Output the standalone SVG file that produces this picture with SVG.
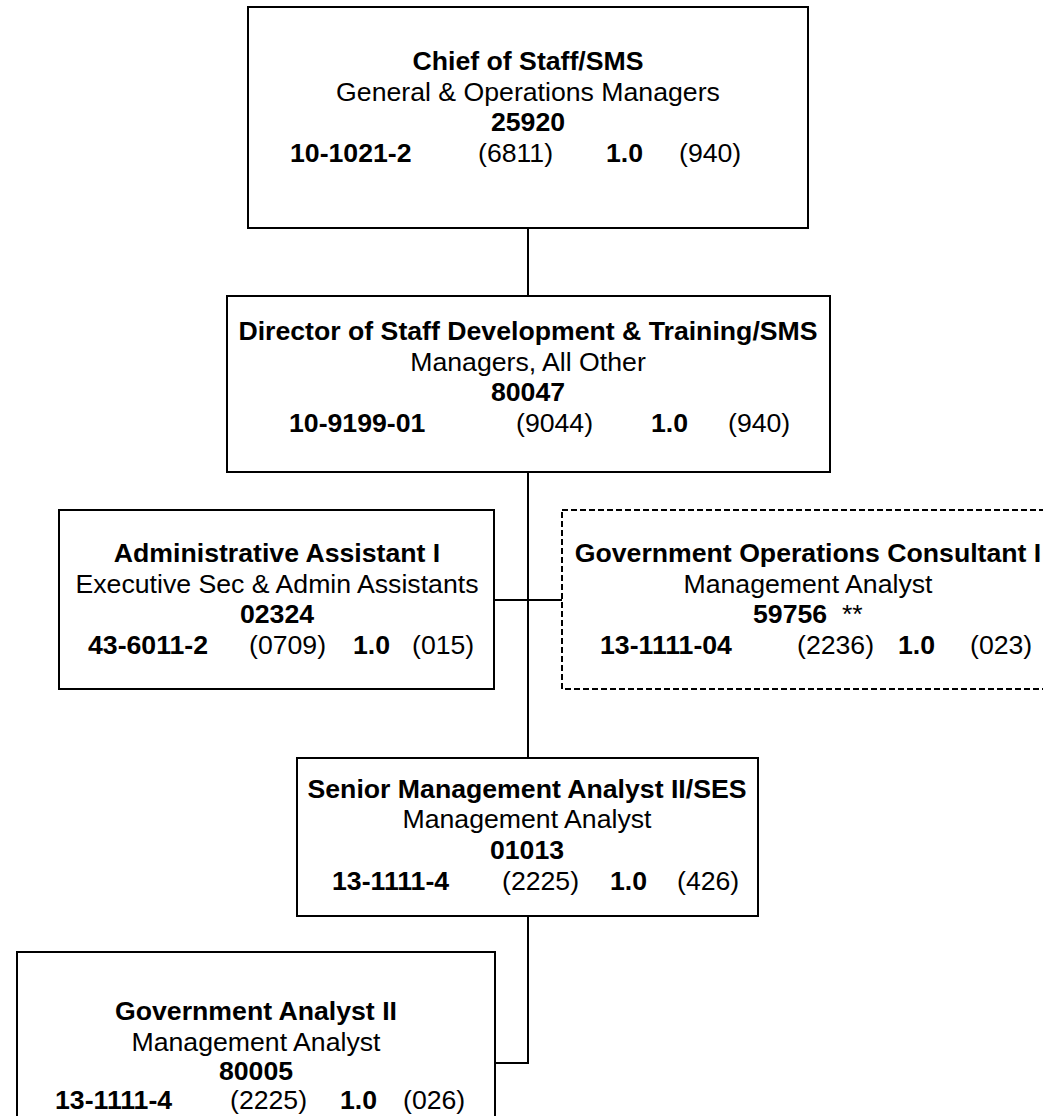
<svg xmlns="http://www.w3.org/2000/svg" width="1043" height="1116" viewBox="0 0 1043 1116">
  <style>
    text { font-family: "Liberation Sans", Arial, sans-serif; font-size: 26.67px; fill: #000; }
    .b { font-weight: bold; }
    .c { text-anchor: middle; }
    .box { fill: #fff; stroke: #000; stroke-width: 2; }
    .dash { fill: #fff; stroke: #000; stroke-width: 2; stroke-dasharray: 6 3; }
    .link { fill: none; stroke: #000; stroke-width: 2; }
  </style>
  <rect width="1043" height="1116" fill="#fff"/>

  <!-- reporting lines -->
  <g id="connectors">
    <line class="link" x1="528" y1="228" x2="528" y2="296"/>
    <line class="link" x1="528" y1="472" x2="528" y2="758"/>
    <line class="link" x1="494" y1="600" x2="562" y2="600"/>
    <polyline class="link" points="528,916 528,1063 495,1063"/>
  </g>

  <g id="chief-of-staff">
    <rect class="box" x="248" y="7" width="560" height="221"/>
    <text class="b c" x="528" y="70">Chief of Staff/SMS</text>
    <text class="c" x="528" y="100.7">General &amp; Operations Managers</text>
    <text class="b c" x="528" y="131.4">25920</text>
    <text class="b" x="290" y="162">10-1021-2</text>
    <text x="478" y="162">(6811)</text>
    <text class="b" x="606" y="162">1.0</text>
    <text x="679" y="162">(940)</text>
  </g>

  <g id="director-staff-development">
    <rect class="box" x="227" y="296" width="603" height="176"/>
    <text class="b c" x="528" y="340">Director of Staff Development &amp; Training/SMS</text>
    <text class="c" x="528" y="370.7">Managers, All Other</text>
    <text class="b c" x="528" y="401.4">80047</text>
    <text class="b" x="289" y="432">10-9199-01</text>
    <text x="516" y="432">(9044)</text>
    <text class="b" x="651" y="432">1.0</text>
    <text x="728" y="432">(940)</text>
  </g>

  <g id="administrative-assistant">
    <rect class="box" x="59" y="510" width="435" height="179"/>
    <text class="b c" x="277" y="562">Administrative Assistant I</text>
    <text class="c" x="277" y="592.7">Executive Sec &amp; Admin Assistants</text>
    <text class="b c" x="277" y="623.4">02324</text>
    <text class="b" x="88" y="654">43-6011-2</text>
    <text x="249" y="654">(0709)</text>
    <text class="b" x="353" y="654">1.0</text>
    <text x="412" y="654">(015)</text>
  </g>

  <g id="government-operations-consultant">
    <rect class="dash" x="562" y="510" width="500" height="179"/>
    <text class="b c" x="808" y="562">Government Operations Consultant I</text>
    <text class="c" x="808" y="592.7">Management Analyst</text>
    <text class="b" x="753" y="623.4">59756</text>
    <text x="842" y="623.4">**</text>
    <text class="b" x="600" y="654">13-1111-04</text>
    <text x="797" y="654">(2236)</text>
    <text class="b" x="898" y="654">1.0</text>
    <text x="970" y="654">(023)</text>
  </g>

  <g id="senior-management-analyst">
    <rect class="box" x="297" y="758" width="461" height="158"/>
    <text class="b c" x="527" y="797.5">Senior Management Analyst II/SES</text>
    <text class="c" x="527" y="828.2">Management Analyst</text>
    <text class="b c" x="527" y="858.9">01013</text>
    <text class="b" x="332" y="889.5">13-1111-4</text>
    <text x="502" y="889.5">(2225)</text>
    <text class="b" x="610" y="889.5">1.0</text>
    <text x="677" y="889.5">(426)</text>
  </g>

  <g id="government-analyst">
    <rect class="box" x="17" y="952" width="478" height="200"/>
    <text class="b c" x="256" y="1020">Government Analyst II</text>
    <text class="c" x="256" y="1050.5">Management Analyst</text>
    <text class="b c" x="256" y="1080">80005</text>
    <text class="b" x="55" y="1109">13-1111-4</text>
    <text x="230" y="1109">(2225)</text>
    <text class="b" x="340" y="1109">1.0</text>
    <text x="403" y="1109">(026)</text>
  </g>
</svg>
